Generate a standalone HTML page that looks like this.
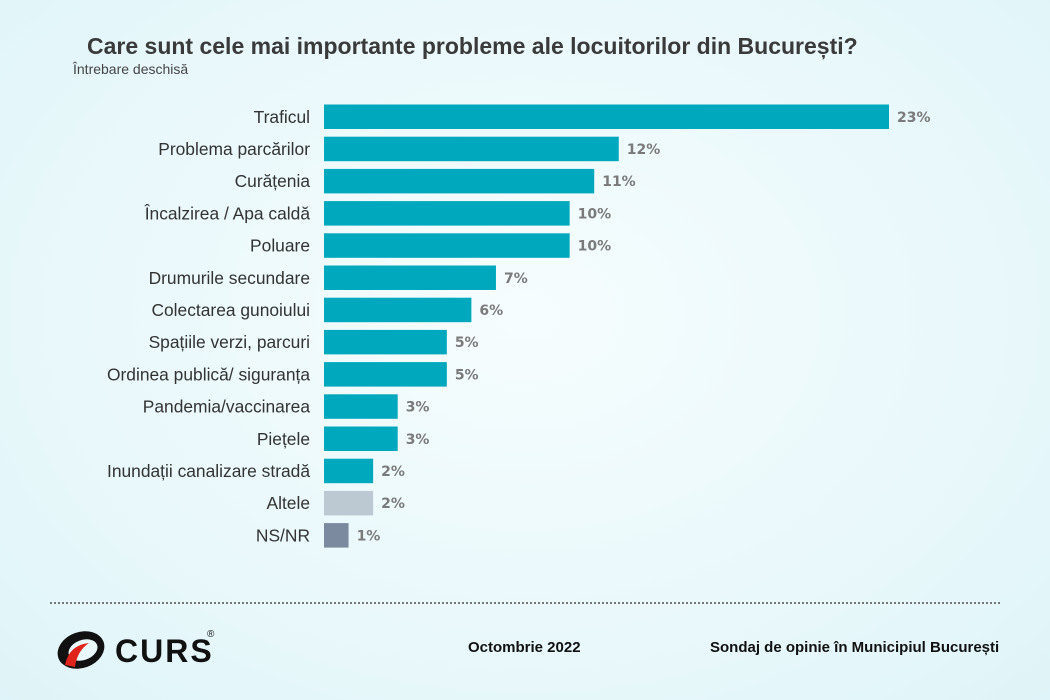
<!DOCTYPE html>
<html><head><meta charset="utf-8"><style>
body{margin:0;}
#wrap{width:1050px;height:700px;position:relative;overflow:hidden;background:radial-gradient(ellipse at 50% 45%,#f6fdfe 0%,#e9f8fb 60%,#dff4f8 100%);font-family:"Liberation Sans",sans-serif;}
.t{position:absolute;white-space:nowrap;}
</style></head><body>
<div id="wrap">
<div class="t" style="left:87px;top:33px;font-size:23px;font-weight:bold;color:#3a3a3a;">Care sunt cele mai importante probleme ale locuitorilor din București?</div>
<div class="t" style="left:73px;top:61px;font-size:14px;color:#444;">Întrebare deschisă</div>
<svg id="chart" width="1050" height="700" style="position:absolute;left:0;top:0;"></svg>
<div style="position:absolute;left:50px;top:602px;width:950px;border-top:2px dotted #777;"></div>
<svg style="position:absolute;left:55px;top:625px" width="170" height="50">
<ellipse cx="26" cy="25" rx="24" ry="18" fill="#111" transform="rotate(-20 26 25)"/>
<ellipse cx="28" cy="25" rx="15" ry="10" fill="#e9f8fb" transform="rotate(-20 28 25)"/>
<path d="M10 40 Q14 20 34 18 Q22 26 20 42 Z" fill="#e0231b"/>
<text x="60" y="37" font-family="Liberation Sans" font-weight="bold" font-size="32" fill="#111" letter-spacing="2">CURS</text>
<text x="152" y="12" font-family="Liberation Sans" font-size="10" fill="#111">®</text>
</svg>
<div class="t" style="left:468px;top:639px;font-size:15px;font-weight:bold;color:#111;">Octombrie 2022</div>
<div class="t" style="left:710px;top:639px;font-size:15px;font-weight:bold;color:#111;">Sondaj de opinie în Municipiul București</div>
</div>
<script>
const categories=["Traficul","Problema parcărilor","Curățenia","Încalzirea / Apa caldă","Poluare","Drumurile secundare","Colectarea gunoiului","Spațiile verzi, parcuri","Ordinea publică/ siguranța","Pandemia/vaccinarea","Piețele","Inundații canalizare stradă","Altele","NS/NR"];
const values=[23,12,11,10,10,7,6,5,5,3,3,2,2,1];
const labels=["23%","12%","11%","10%","10%","7%","6%","5%","5%","3%","3%","2%","2%","1%"];
const svg=document.getElementById('chart');
const NS='http://www.w3.org/2000/svg';
const x0=324, pxPer=565/23, y0=104.5, pitch=32.2, bh=24.5;
function xs(v){return x0+v*pxPer;}
function ys(i){return y0+i*pitch;}
categories.forEach((c,i)=>{
  const color=c==="Altele"?"#bcc8d2":(c==="NS/NR"?"#7b8a9e":"#00a8bd");
  const r=document.createElementNS(NS,'rect');
  
  
  r.setAttribute('x',x0);r.setAttribute('y',ys(i));
  r.setAttribute('width',xs(values[i])-x0);r.setAttribute('height',bh);
  r.setAttribute('fill',color);svg.appendChild(r);
  const t=document.createElementNS(NS,'text');
  
  
  t.setAttribute('x',310);t.setAttribute('y',ys(i)+bh/2+6);
  t.setAttribute('text-anchor','end');t.setAttribute('font-size','17.4');
  t.setAttribute('font-family','Liberation Sans, sans-serif');t.setAttribute('fill','#333');
  t.textContent=c;svg.appendChild(t);
  const v=document.createElementNS(NS,'text');
  
  
  v.setAttribute('x',xs(values[i])+8);v.setAttribute('y',ys(i)+bh/2+5);
  v.setAttribute('font-size','14');v.setAttribute('font-weight','bold');
  v.setAttribute('font-family','DejaVu Sans, sans-serif');v.setAttribute('fill','#7a7a7a');
  v.textContent=labels[i];svg.appendChild(v);
});
</script>
</body></html>
